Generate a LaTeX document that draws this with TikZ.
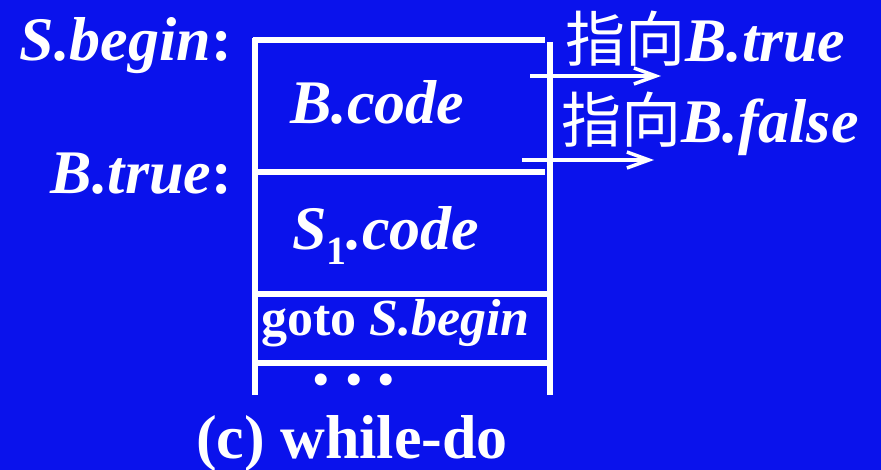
\documentclass[tikz,border=0pt]{standalone}
\usepackage{fontspec}
\setmainfont{Liberation Serif}
\newfontfamily\cjk{Noto Sans CJK SC}
\usetikzlibrary{arrows.meta}
\definecolor{bgblue}{RGB}{10,18,236}
\tikzset{
  wline/.style={draw=white, line width=5.5pt},
  warrow/.style={draw=white, line width=4pt, -{Straight Barb[length=22pt,width=16pt,line width=3.5pt]}},
  big/.style={text=white, inner sep=0pt, font=\fontsize{62}{70}\selectfont\bfseries},
  mid/.style={text=white, inner sep=0pt, font=\fontsize{52}{60}\selectfont\bfseries},
}
\begin{document}
\begin{tikzpicture}[x=1pt,y=-1pt]
\fill[bgblue] (0,0) rectangle (881,470);
\useasboundingbox (0,0) rectangle (881,470);
% frame coordinates
\coordinate (tl) at (253,40);
\coordinate (tr) at (545,40);
\coordinate (lt) at (255,38);
\coordinate (lb) at (255,395);
\coordinate (rt) at (550,42);
\coordinate (rb) at (550,395);
\coordinate (h1l) at (255,172);
\coordinate (h1r) at (545,172);
\coordinate (h2l) at (255,294);
\coordinate (h2r) at (548,294);
\coordinate (h3l) at (258,363);
\coordinate (h3r) at (548,363);
\draw[wline] (tl) -- (tr);
\draw[wline] (lt) -- (lb);
\draw[wline] (rt) -- (rb);
\draw[wline] (h1l) -- (h1r);
\draw[wline] (h2l) -- (h2r);
\draw[wline] (h3l) -- (h3r);
% arrows
\coordinate (a1s) at (530,76);
\coordinate (a1e) at (661,76);
\coordinate (a2s) at (522,160);
\coordinate (a2e) at (654,160);
\draw[warrow] (a1s) -- (a1e);
\draw[warrow] (a2s) -- (a2e);
% labels
\node[big, anchor=base east] (sbegin) at (232,61) {\textit{S.begin}:};
\node[big, anchor=base east] (btrue) at (232,194) {\textit{B.true}:};
\node[big, anchor=base west] (bcode) at (290,124) {\textit{B.code}};
\node[big, anchor=base west] (s1code) at (292,250) {\textit{S}\raisebox{-15pt}{\fontsize{40}{44}\selectfont 1}\textit{.code}};
\node[mid, anchor=base west] (goto) at (261,336) {goto \textit{S.begin}};
\node[text=white, inner sep=0pt, font=\fontsize{50}{52}\selectfont, anchor=center] (dots) at (354,385) {•\hspace{15pt}•\hspace{15pt}•};
\node[big, anchor=base west] (ptrue) at (565,62) {{\cjk\mdseries\fontsize{60}{64}\selectfont 指向}\textit{B.true}};
\node[big, anchor=base west] (pfalse) at (561,143) {{\cjk\mdseries\fontsize{60}{64}\selectfont 指向}\textit{B.false}};
\node[big, anchor=base west] (cap) at (196,458) {(c) while-do};
\end{tikzpicture}
\end{document}
